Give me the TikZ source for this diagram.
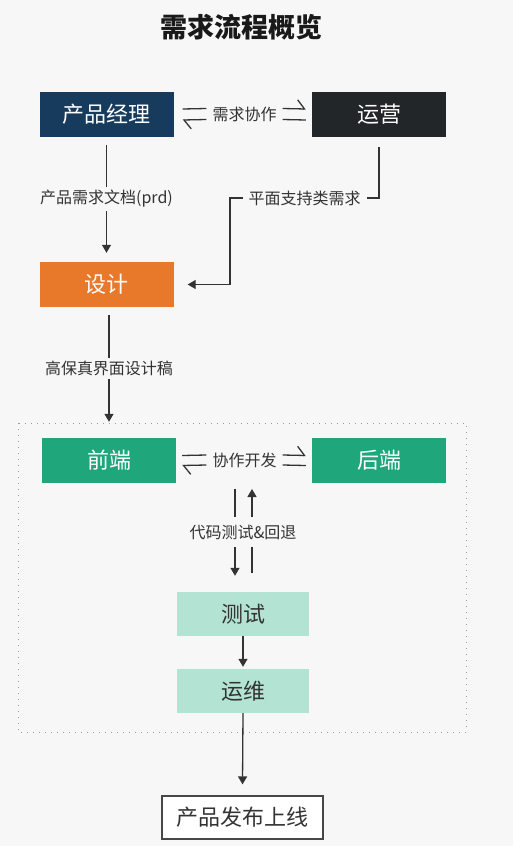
\documentclass[tikz,border=0pt]{standalone}
\usepackage{fontspec}
\setmainfont{Noto Sans CJK SC}
\usetikzlibrary{arrows.meta}

\definecolor{bg}{HTML}{F7F7F7}
\definecolor{ink}{HTML}{333333}
\definecolor{pmblue}{HTML}{173B5C}
\definecolor{opsblack}{HTML}{232629}
\definecolor{designorange}{HTML}{E8782A}
\definecolor{devgreen}{HTML}{1FA67A}
\definecolor{testgreen}{HTML}{B3E4D3}
\definecolor{framegray}{HTML}{9A9A9A}

\newcommand\boxfont{\fontsize{22}{25}\selectfont}
\newcommand\lblfont{\fontsize{16}{19}\selectfont}

\tikzset{
  box/.style={minimum width=134pt, minimum height=45pt, inner sep=0pt, font=\boxfont, text=white},
  lightbox/.style={box, minimum width=132pt, minimum height=44pt, fill=testgreen, text=ink},
  lbl/.style={font=\lblfont, text=ink, fill=bg, inner xsep=6pt, inner ysep=3pt},
  arr/.style={draw=ink, line width=1.3pt, -{Triangle[length=8pt,width=9pt]}},
  harp/.style={draw=ink, line width=1.3pt, -{Straight Barb[left,length=7pt,width=18pt]}},
  plain/.style={draw=ink, line width=1.3pt},
}

\begin{document}
\begin{tikzpicture}[x=1pt,y=-1pt]
  % background
  \fill[bg] (0,0) rectangle (513,846);
  \useasboundingbox (0,0) rectangle (513,846);
  % title
  \node[font=\bfseries\fontsize{27}{30}\selectfont, text=black!90] (title) at (241.5,27.5) {需求流程概览};

  % product manager and operations
  \node[box, fill=pmblue] (pm) at (106.5,114.5) {产品经理};
  \node[box, fill=opsblack] (ops) at (379,114.5) {运营};
  \node[lbl] (coop) at (244.5,114) {需求协作};
  \draw[plain] ([xshift=9pt,yshift=5.5pt]pm.east) -- ([yshift=5.5pt]coop.west);
  \draw[harp] ([yshift=-5.5pt]coop.west) -- ([xshift=9pt,yshift=-5.5pt]pm.east);
  \draw[harp] ([yshift=5.5pt]coop.east) -- ([xshift=-6pt,yshift=5.5pt]ops.west);
  \draw[plain] ([yshift=-5.5pt]coop.east) -- ([xshift=-6pt,yshift=-5.5pt]ops.west);

  % design
  \node[box, fill=designorange] (design) at (106.5,284.5) {设计};
  \coordinate (bend) at (230,198);
  \draw[arr] ([yshift=-8pt]pm.south) -- node[lbl] {产品需求文档(prd)} ([yshift=9pt]design.north);
  \draw[arr] ([yshift=-10pt]ops.south) |- node[lbl, pos=0.75] {平面支持类需求} (bend) |- ([xshift=14pt]design.east);

  % development frame
  \draw[framegray, line width=1pt, dash pattern=on 1pt off 5pt] (18,423) rectangle (466,732);
  \node[box, fill=devgreen] (fe) at (109,460.5) {前端};
  \node[box, fill=devgreen] (be) at (379,460.5) {后端};
  \draw[arr] ([xshift=2.5pt,yshift=-8pt]design.south) -- node[lbl] {高保真界面设计稿} ([yshift=16pt]fe.north);
  \node[lbl] (collab) at (244.5,460) {协作开发};
  \draw[plain] ([xshift=6pt,yshift=5pt]fe.east) -- ([yshift=5pt]collab.west);
  \draw[harp] ([yshift=-5pt]collab.west) -- ([xshift=6pt,yshift=-5pt]fe.east);
  \draw[harp] ([yshift=5pt]collab.east) -- ([xshift=-6pt,yshift=5pt]be.west);
  \draw[plain] ([yshift=-5pt]collab.east) -- ([xshift=-6pt,yshift=-5pt]be.west);

  % test and run
  \node[lightbox] (test) at (243,614) {测试};
  \node[lightbox] (run) at (243,691) {运维};
  \coordinate (devtop) at (243.5,489);
  \draw[arr] ([xshift=-8.5pt]devtop) -- ([xshift=-8pt,yshift=16pt]test.north);
  \draw[arr] ([xshift=9pt,yshift=19pt]test.north) -- ([xshift=8.5pt]devtop);
  \node[lbl, inner ysep=8pt] (code) at (243,532) {代码测试\&回退};
  \draw[arr] (test.south) -- ([yshift=2pt]run.north);

  % release
  \node[box, minimum width=161pt, minimum height=43pt, fill=white, draw=ink!90, line width=1.2pt, text=ink] (release) at (242.5,817.5) {产品发布上线};
  \draw[arr] (run.south) -- ([yshift=11pt]release.north);
\end{tikzpicture}
\end{document}
